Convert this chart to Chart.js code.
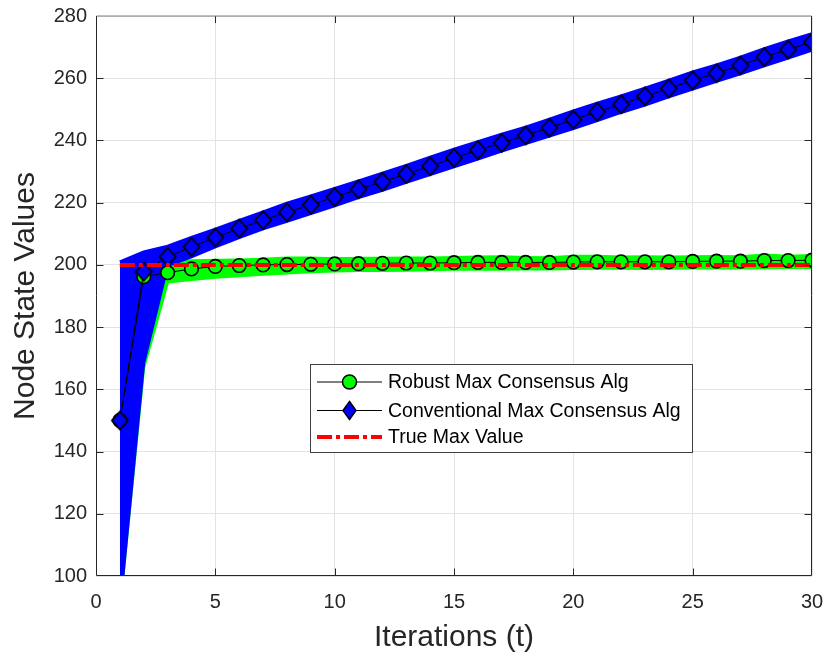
<!DOCTYPE html>
<html><head><meta charset="utf-8">
<script src="https://cdn.jsdelivr.net/npm/chart.js@4.4.1/dist/chart.umd.min.js"></script>
<style>html,body{margin:0;padding:0;background:#fff;}canvas{display:block;}</style>
</head><body>
<canvas id="c" width="825" height="658"></canvas>
<script>
// ---- data ----
const iterations = [1,2,3,4,5,6,7,8,9,10,11,12,13,14,15,16,17,18,19,20,21,22,23,24,25,26,27,28,29,30];
const xTicks = [0,5,10,15,20,25,30];
const yTicks = [100,120,140,160,180,200,220,240,260,280];

const robustMean = [150,196.2,197.5,198.7,199.5,199.8,200.0,200.1,200.2,200.3,200.4,200.5,200.6,200.6,200.7,200.8,200.8,200.8,200.8,200.9,201.0,201.0,201.0,201.0,201.1,201.2,201.2,201.4,201.4,201.5];
const robustHigh = [200,200.5,201,201.3,201.5,201.6,201.8,202.2,202.2,202.0,202.1,202.1,202.2,202.2,202.4,202.5,202.6,202.4,202.3,202.8,202.8,202.5,202.6,202.5,202.6,202.7,202.6,203.2,202.8,203.0];
const robustLow  = [90,167,194.5,195.3,196,196.5,197,197.4,197.8,198,198.2,198.2,198.3,198.4,198.6,198.7,198.6,198.7,198.7,198.8,198.9,198.9,198.8,198.9,199,199,199,199.1,199.2,199.2];

const conventionalMean = [150,197.8,202.6,205.8,208.8,211.7,214.4,216.9,219.3,221.8,224.3,226.7,229.2,231.7,234.4,236.9,239.2,241.6,244.1,246.7,249.2,251.6,254.2,256.7,259.3,261.6,264.1,266.8,269.2,271.6];
const conventionalHigh = [201,204.2,206,208.8,211.5,214.3,217,219.8,222.2,224.6,227,229.5,232,234.6,237.2,239.6,242,244.3,246.8,249.5,252,254.3,256.8,259.4,262,264.3,266.8,269.5,272,274.3];
const conventionalLow  = [90,168.5,199.8,202.6,205.8,208.8,211.6,214,216.5,219,221.6,224,226.5,229,231.5,234,236.6,239,241.4,243.8,246.4,249,251.4,254,256.5,259,261.4,264,266.5,269];

const trueMax = [200,200,200,200,200,200,200,200,200,200,200,200,200,200,200,200,200,200,200,200,200,200,200,200,200,200,200,200,200,200];

const legendLabels = ['Robust Max Consensus Alg','Conventional Max Consensus Alg','True Max Value'];
const xTitle = 'Iterations (t)';
const yTitle = 'Node State Values';

// ---- styling ----
const FONT = "'Liberation Sans', Arial, Helvetica, sans-serif";
const GREEN = '#00ff00', BLUE = '#0000ff', RED = '#ff0000', AX = '#262626';
const pts = arr => arr.map((v,i)=>({x: iterations[i], y: v}));

function diamondImage(w, h) {
  const c = document.createElement('canvas');
  c.width = w + 4; c.height = h + 4;
  const g = c.getContext('2d');
  const cx = c.width / 2, cy = c.height / 2;
  g.beginPath();
  g.moveTo(cx, cy - h/2); g.lineTo(cx + w/2, cy); g.lineTo(cx, cy + h/2); g.lineTo(cx - w/2, cy); g.closePath();
  g.fillStyle = BLUE; g.fill();
  g.lineWidth = 1.8; g.strokeStyle = '#000'; g.stroke();
  return c;
}
const plotDiamond = diamondImage(16, 18);

const axesBox = {
  id: 'axesBox',
  afterDatasetsDraw(chart) {
    const {ctx, chartArea: a, scales: {x, y}} = chart;
    ctx.save();
    ctx.lineWidth = 1;
    ctx.strokeStyle = AX;
    const L = Math.round(a.left) + 0.5, R = Math.round(a.right) - 0.5;
    const T = Math.round(a.top), B = Math.round(a.bottom) - 0.5;
    const tl = 7;
    ctx.beginPath();
    xTicks.slice(1,-1).forEach(v => {
      const p = Math.round(x.getPixelForValue(v)) + 0.5;
      ctx.moveTo(p, B); ctx.lineTo(p, B - tl);
      ctx.moveTo(p, T); ctx.lineTo(p, T + tl);
    });
    yTicks.slice(1,-1).forEach(v => {
      const p = Math.round(y.getPixelForValue(v)) + 0.5;
      ctx.moveTo(L, p); ctx.lineTo(L + tl, p);
      ctx.moveTo(R, p); ctx.lineTo(R - tl, p);
    });
    ctx.stroke();
    ctx.beginPath();
    ctx.moveTo(L, T); ctx.lineTo(L, B); ctx.lineTo(R, B); ctx.lineTo(R, T);
    ctx.stroke();
    ctx.strokeStyle = '#7f7f7f';
    ctx.beginPath(); ctx.moveTo(L, T); ctx.lineTo(R, T); ctx.stroke();
    ctx.restore();
  }
};

const customLegend = {
  id: 'customLegend',
  afterDraw(chart) {
    const {ctx} = chart;
    ctx.save();
    const bx = 310.5, by = 364.5, bw = 382, bh = 88;
    ctx.fillStyle = '#ffffff';
    ctx.fillRect(bx, by, bw, bh);
    ctx.strokeStyle = '#404040'; ctx.lineWidth = 1;
    ctx.strokeRect(bx, by, bw, bh);
    const rows = [382, 410.5, 437];
    const x0 = 317, x1 = 382, xm = 349.5;
    // row 1
    ctx.strokeStyle = '#000'; ctx.lineWidth = 1;
    ctx.beginPath(); ctx.moveTo(x0, rows[0]); ctx.lineTo(x1, rows[0]); ctx.stroke();
    ctx.beginPath(); ctx.arc(xm, rows[0], 7, 0, Math.PI*2);
    ctx.fillStyle = GREEN; ctx.fill(); ctx.lineWidth = 1.5; ctx.stroke();
    // row 2
    ctx.lineWidth = 1;
    ctx.beginPath(); ctx.moveTo(x0, rows[1]); ctx.lineTo(x1, rows[1]); ctx.stroke();
    ctx.beginPath();
    ctx.moveTo(xm, rows[1]-9); ctx.lineTo(xm+6.5, rows[1]); ctx.lineTo(xm, rows[1]+9); ctx.lineTo(xm-6.5, rows[1]); ctx.closePath();
    ctx.fillStyle = BLUE; ctx.fill(); ctx.lineWidth = 1.5; ctx.stroke();
    // row 3
    ctx.strokeStyle = RED; ctx.lineWidth = 4; ctx.setLineDash([15,4,4,4]);
    ctx.beginPath(); ctx.moveTo(x0, rows[2]); ctx.lineTo(x1, rows[2]); ctx.stroke();
    ctx.setLineDash([]);
    ctx.fillStyle = '#000';
    ctx.font = '19.5px ' + FONT;
    ctx.textBaseline = 'middle'; ctx.textAlign = 'left';
    legendLabels.forEach((t,i) => ctx.fillText(t, 388, rows[i] + 1));
    ctx.restore();
  }
};

new Chart(document.getElementById('c'), {
  type: 'line',
  data: {
    datasets: [
      {label: 'robust low', data: pts(robustLow), borderColor: GREEN, borderWidth: 3, pointRadius: 0, fill: false, order: 9},
      {label: 'robust high', data: pts(robustHigh), borderColor: GREEN, borderWidth: 3, pointRadius: 0, fill: 0, backgroundColor: GREEN, order: 8},
      {label: 'conv low', data: pts(conventionalLow), borderColor: BLUE, borderWidth: 3, pointRadius: 0, fill: false, order: 7},
      {label: 'conv high', data: pts(conventionalHigh), borderColor: BLUE, borderWidth: 3, pointRadius: 0, fill: 2, backgroundColor: BLUE, order: 6},
      {label: legendLabels[0], data: pts(robustMean), borderColor: '#000', borderWidth: 1, pointStyle: 'circle', pointRadius: 6.8, pointBackgroundColor: GREEN, pointBorderColor: '#000', pointBorderWidth: 1.6, fill: false, order: 3},
      {label: legendLabels[1], data: pts(conventionalMean), borderColor: '#000', borderWidth: 1, pointStyle: plotDiamond, pointRadius: 9, fill: false, order: 2},
      {label: legendLabels[2], data: pts(trueMax), borderColor: RED, borderWidth: 4, borderDash: [15,4,4,4], pointRadius: 0, fill: false, order: 1}
    ]
  },
  options: {
    responsive: false,
    devicePixelRatio: 1,
    animation: false,
    events: [],
    layout: {padding: {left: 0, right: 13, top: 16, bottom: 0}},
    plugins: {legend: {display: false}, tooltip: {enabled: false}},
    elements: {line: {tension: 0}},
    scales: {
      x: {
        type: 'linear', min: 0, max: 30,
        afterBuildTicks: s => { s.ticks = xTicks.map(v => ({value: v})); },
        afterFit: s => { s.height = 82; s.paddingLeft = 0; s.paddingRight = 0; },
        grid: {color: '#e3e3e3', drawTicks: false},
        border: {display: false},
        ticks: {padding: 14, color: AX, font: {family: FONT, size: 20}, maxRotation: 0},
        title: {display: true, text: xTitle, color: AX, font: {family: FONT, size: 30}, padding: {top: 0, bottom: 2}}
      },
      y: {
        type: 'linear', min: 100, max: 280,
        afterBuildTicks: s => { s.ticks = yTicks.map(v => ({value: v})); },
        afterFit: s => { s.width = 96; s.paddingTop = 0; s.paddingBottom = 0; },
        grid: {color: '#e3e3e3', drawTicks: false},
        border: {display: false},
        ticks: {padding: 9, color: AX, font: {family: FONT, size: 20}},
        title: {display: true, text: yTitle, color: AX, font: {family: FONT, size: 30}, padding: {top: 8, bottom: 0}}
      }
    }
  },
  plugins: [axesBox, customLegend]
});
</script>
</body></html>
